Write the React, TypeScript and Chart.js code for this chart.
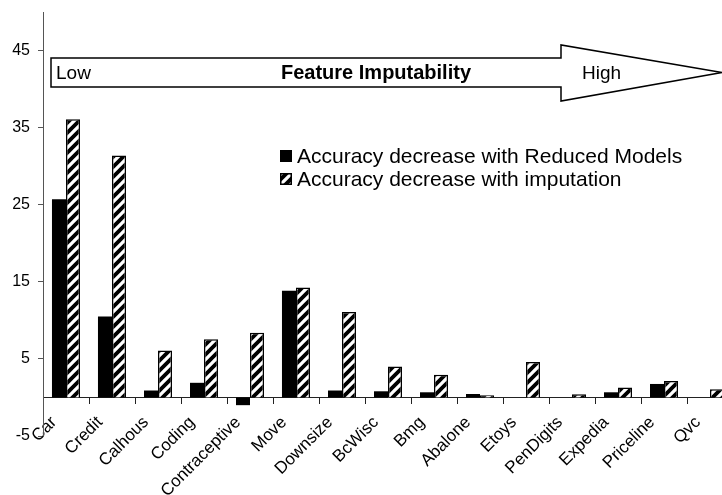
import React, { useEffect, useRef } from "react";
import { Chart, registerables } from "chart.js";

Chart.register(...registerables);

const categories = [
  "Car", "Credit", "Calhous", "Coding", "Contraceptive", "Move", "Downsize",
  "BcWisc", "Bmg", "Abalone", "Etoys", "PenDigits", "Expedia", "Priceline", "Qvc",
];
const reducedModels = [25.7, 10.5, 0.9, 1.9, -1.0, 13.85, 0.9, 0.8, 0.67, 0.45, 0, 0, 0.67, 1.75, 0];
const imputation = [36.1, 31.4, 6.1, 7.55, 8.4, 14.25, 11.1, 4.0, 2.95, 0.3, 4.6, 0.4, 1.3, 2.15, 1.05];
const yTicks = [-5, 5, 15, 25, 35, 45];
const yMin = -5;
const yMax = 50;
const seriesLabels = ["Accuracy decrease with Reduced Models", "Accuracy decrease with imputation"];
const arrowLow = "Low";
const arrowTitle = "Feature Imputability";
const arrowHigh = "High";

const FONT = "'Liberation Sans', Arial, sans-serif";

function makeHatch(ctx: CanvasRenderingContext2D): CanvasPattern | string {
  const size = 10;
  const c = document.createElement("canvas");
  c.width = size;
  c.height = size;
  const g = c.getContext("2d")!;
  g.fillStyle = "#fff";
  g.fillRect(0, 0, size, size);
  g.strokeStyle = "#000";
  g.lineWidth = 3.8;
  g.beginPath();
  g.moveTo(-2, size + 2);
  g.lineTo(size + 2, -2);
  g.moveTo(-2, 2);
  g.lineTo(2, -2);
  g.moveTo(size - 2, size + 2);
  g.lineTo(size + 2, size - 2);
  g.stroke();
  return ctx.createPattern(c, "repeat") || "#888";
}

export default function App() {
  const ref = useRef<HTMLCanvasElement | null>(null);

  useEffect(() => {
    const canvas = ref.current;
    if (!canvas) return;
    const ctx = canvas.getContext("2d")!;
    const hatch = makeHatch(ctx);

    const overlay = {
      id: "overlay",
      afterDraw(chart: any) {
        const c = chart.ctx as CanvasRenderingContext2D;
        c.save();
        // Arrow
        const x0 = 51, sy0 = 58, sy1 = 87, hx = 561, hy0 = 45, hy1 = 101, tx = 722, ty = 72.5;
        c.beginPath();
        c.moveTo(x0, sy0);
        c.lineTo(hx, sy0);
        c.lineTo(hx, hy0);
        c.lineTo(tx, ty);
        c.lineTo(hx, hy1);
        c.lineTo(hx, sy1);
        c.lineTo(x0, sy1);
        c.closePath();
        c.fillStyle = "#fff";
        c.fill();
        c.lineWidth = 1.5;
        c.strokeStyle = "#000";
        c.stroke();
        c.fillStyle = "#000";
        c.textBaseline = "middle";
        c.font = `19px ${FONT}`;
        c.textAlign = "left";
        c.fillText(arrowLow, 56, ty + 1);
        c.fillText(arrowHigh, 582, ty + 1);
        c.font = `bold 20px ${FONT}`;
        c.textAlign = "center";
        c.fillText(arrowTitle, 376, ty + 1);

        // Legend
        const lx = 280, ly = [156, 179], sq = 12;
        const fills: any[] = ["#000", hatch];
        c.font = `21px ${FONT}`;
        c.textAlign = "left";
        for (let i = 0; i < seriesLabels.length; i++) {
          c.fillStyle = fills[i];
          c.fillRect(lx, ly[i] - sq / 2, sq, sq);
          c.lineWidth = 1.5;
          c.strokeStyle = "#000";
          c.strokeRect(lx + 0.75, ly[i] - sq / 2 + 0.75, sq - 1.5, sq - 1.5);
          c.fillStyle = "#000";
          c.fillText(seriesLabels[i], 297, ly[i] + 1);
        }
        c.restore();
      },
    };

    const chart = new Chart(ctx, {
      type: "bar",
      data: {
        labels: categories,
        datasets: [
          {
            label: seriesLabels[0],
            data: reducedModels,
            backgroundColor: "#000",
            borderColor: "#000",
            borderWidth: 0,
            categoryPercentage: 0.61,
            barPercentage: 1,
          },
          {
            label: seriesLabels[1],
            data: imputation,
            backgroundColor: hatch as any,
            borderColor: "#000",
            borderWidth: 1.5,
            categoryPercentage: 0.61,
            barPercentage: 1,
          },
        ],
      },
      options: {
        responsive: false,
        animation: false,
        layout: { padding: { top: 12, left: 0, right: 0, bottom: 59 } },
        plugins: {
          legend: { display: false },
          tooltip: { enabled: false },
        },
        scales: {
          x: {
            position: { y: 0 } as any,
            grid: {
              display: true,
              drawOnChartArea: false,
              drawTicks: true,
              tickLength: 6,
              color: "#222",
              offset: true,
            },
            border: { display: true, color: "#222", width: 1 },
            ticks: {
              autoSkip: false,
              minRotation: 45,
              maxRotation: 45,
              padding: 9,
              labelOffset: -12,
              color: "#000",
              font: { family: FONT, size: 17 },
            },
            afterFit: (scale: any) => {
              scale.paddingLeft = 0;
              scale.paddingRight = 0;
              scale.paddingTop = 0;
              scale.paddingBottom = 0;
            },
          },
          y: {
            min: yMin,
            max: yMax,
            grid: {
              display: true,
              drawOnChartArea: false,
              drawTicks: true,
              tickLength: 5,
              color: "#555",
            },
            border: { display: true, color: "#555", width: 1 },
            ticks: {
              padding: 8,
              color: "#000",
              font: { family: FONT, size: 16 },
            },
            afterBuildTicks: (axis: any) => {
              axis.ticks = yTicks.map((v) => ({ value: v }));
            },
            afterFit: (scale: any) => {
              scale.width = 43;
              scale.paddingTop = 0;
              scale.paddingBottom = 0;
            },
          },
        },
      },
      plugins: [overlay],
    });

    return () => chart.destroy();
  }, []);

  return (
    <div
      style={{
        position: "absolute",
        left: 0,
        top: 0,
        width: 722,
        height: 495,
        overflow: "hidden",
        background: "#fff",
      }}
    >
      <canvas ref={ref} width={733} height={495} style={{ width: 733, height: 495, display: "block" }} />
    </div>
  );
}
